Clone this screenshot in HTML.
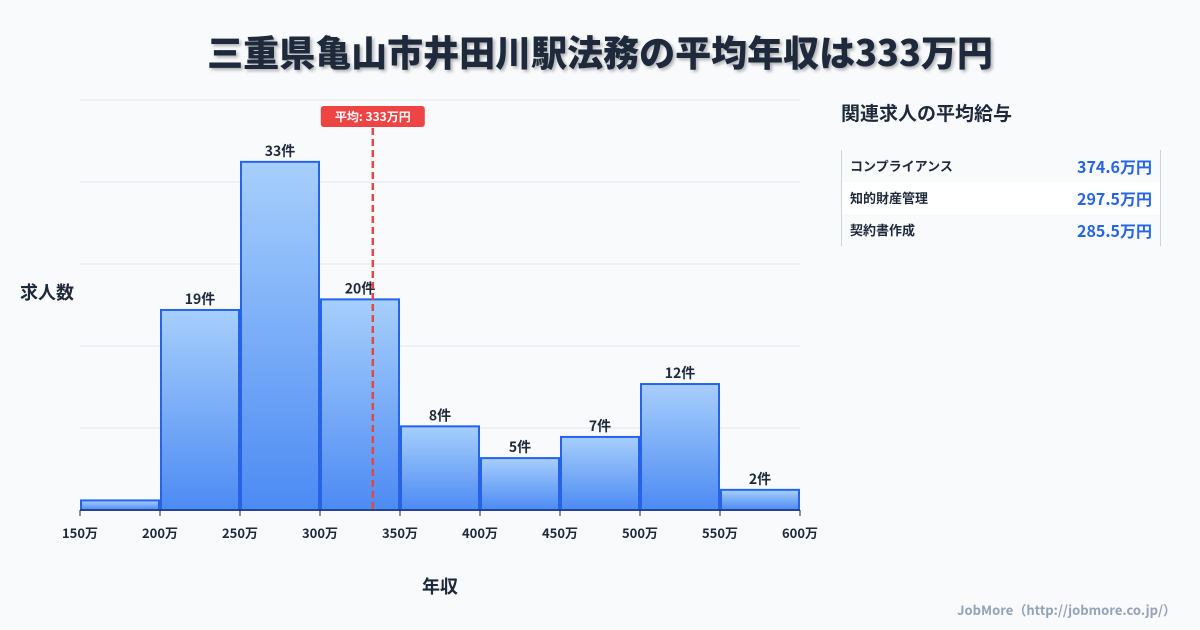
<!DOCTYPE html>
<html><head><meta charset="utf-8"><style>
body{margin:0;width:1200px;height:630px;background:#f8fafc;font-family:"Noto Sans CJK JP","Liberation Sans",sans-serif;overflow:hidden;position:relative}
svg text{font-family:"Noto Sans CJK JP","Liberation Sans",sans-serif}
.t{position:absolute;left:0;width:1200px;top:26px;text-align:center;font-size:36px;font-weight:900;color:#1e293b;text-shadow:2px 2px 3px rgba(0,0,0,.3);line-height:1.4}
.side{position:absolute;left:841px;top:100px;width:320px}
.side h2{margin:0;font-size:19px;font-weight:700;color:#1e293b;line-height:1.4}
.tbl{margin-top:23px;border-left:1px solid #cbd5e1;border-right:1px solid #cbd5e1}
.row{display:flex;justify-content:space-between;align-items:center;height:32px;padding:0 8px;font-size:13px;font-weight:700;color:#1e293b}
.row span:last-child{color:#2563eb;font-size:16px}
.row.w{background:#fff}
.foot{position:absolute;right:24px;top:600px;font-size:13px;font-weight:700;color:#94a3b8}
</style></head><body>
<div class="t">三重県亀山市井田川駅法務の平均年収は333万円</div>
<svg width="1200" height="630" style="position:absolute;left:0;top:0" id="c">
<defs><linearGradient id="g" x1="0" y1="0" x2="0" y2="1"><stop offset="0" stop-color="#a7cffc"/><stop offset="1" stop-color="#4d8bf3"/></linearGradient></defs>
</svg>
<div class="side">
<h2>関連求人の平均給与</h2>
<div class="tbl">
<div class="row"><span>コンプライアンス</span><span>374.6万円</span></div>
<div class="row w"><span>知的財産管理</span><span>297.5万円</span></div>
<div class="row"><span>契約書作成</span><span>285.5万円</span></div>
</div></div>
<div class="foot">JobMore（http://jobmore.co.jp/）</div>
<script>
const binStarts=[150,200,250,300,350,400,450,500,550];
const counts=[1,19,33,20,8,5,7,12,2];
const labels=["","19件","33件","20件","8件","5件","7件","12件","2件"];
const xTicks=[150,200,250,300,350,400,450,500,550,600];
const avg=333;
const svg=document.getElementById('c');const NS='http://www.w3.org/2000/svg';
const x0=80,x1=800,y0=510,ymax=38.75;
const X=v=>x0+(v-150)/(600-150)*(x1-x0);
const Y=v=>y0-v/ymax*410;
function mk(t,a){const e=document.createElementNS(NS,t);for(const k in a)e.setAttribute(k,a[k]);svg.appendChild(e);return e;}
for(let i=0;i<=5;i++){const l=mk('line',{x1:x0,x2:x1,y1:y0-i*82,y2:y0-i*82,stroke:'#e2e8f0'});

}
binStarts.forEach((b,i)=>{const r=mk('rect',{x:X(b)+1,y:Y(counts[i])+1,width:X(b+50)-X(b)-2,height:y0-Y(counts[i])-1,fill:'url(#g)',stroke:'#2563eb','stroke-width':2});


if(labels[i]){const t=mk('text',{x:(X(b)+X(b+50))/2,y:Y(counts[i])-5,'text-anchor':'middle','font-size':14,'font-weight':700,fill:'#1e293b'});t.textContent=labels[i];

}});
mk('line',{x1:x0,x2:x1,y1:y0,y2:y0,stroke:'#1e293b'});
xTicks.forEach(v=>{mk('line',{x1:X(v),x2:X(v),y1:y0,y2:y0+6,stroke:'#1e293b'});
const t=mk('text',{x:X(v),y:y0+28,'text-anchor':'middle','font-size':13,'font-weight':700,fill:'#1e293b'});t.textContent=v+'万';

});
const ax=X(avg);
const al=mk('line',{x1:ax,x2:ax,y1:128,y2:y0,stroke:'#e04848','stroke-width':2.5,'stroke-dasharray':'7,4'});


const bg=mk('rect',{x:ax-52,y:106,width:104,height:21,rx:3,fill:'#ef4444'});


const at=mk('text',{x:ax,y:121,'text-anchor':'middle','font-size':12,'font-weight':700,fill:'#fff'});at.textContent='平均: '+avg+'万円';


const yt=mk('text',{x:20,y:299,'font-size':18,'font-weight':700,fill:'#1e293b'});yt.textContent='求人数';


const xt=mk('text',{x:440,y:593,'text-anchor':'middle','font-size':18,'font-weight':700,fill:'#1e293b'});xt.textContent='年収';


</script>
</body></html>
